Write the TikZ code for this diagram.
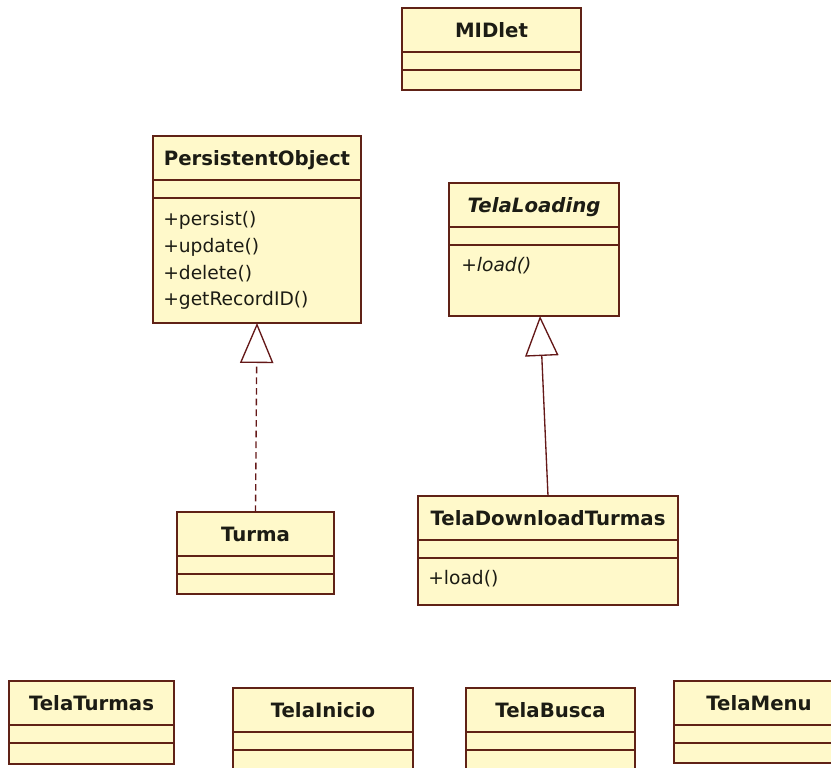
\documentclass[tikz,border=0pt]{standalone}
\usepackage{fontspec}
\setmainfont{DejaVu Sans}
\usetikzlibrary{arrows.meta, positioning, calc}
\definecolor{clsfill}{RGB}{255,249,202}
\definecolor{clsline}{RGB}{96,34,22}
\definecolor{clstext}{RGB}{28,28,20}
\definecolor{linkred}{RGB}{100,24,24}
\tikzset{
  clsbox/.style={rectangle, draw=clsline, fill=clsfill, line width=1.2pt,
    inner sep=0pt, outer sep=0pt},
  clshead/.style={clsbox, font=\bfseries\fontsize{14.8}{17}\selectfont,
    text=clstext, text height=10.8pt, text depth=0pt},
  clsops/.style={rectangle, inner sep=0pt, align=left, anchor=north west,
    font=\fontsize{14}{20}\selectfont, text=clstext},
  realize/.style={-{Triangle[open, length=30pt, width=25pt]}, line width=1pt,
    color=linkred, dash pattern=on 5pt off 3pt},
  inherit/.style={-{Triangle[open, length=30pt, width=25pt]}, line width=1pt,
    color=linkred}
}
% #1 name, #2 top left corner, #3 width, #4 height of operations, #5 title
\newcommand{\umlclass}[5]{%
  \node[clshead, anchor=north west, minimum width={#3*0.75pt}, minimum height=33pt] (#1) at (#2) {#5};
  \node[clsbox, anchor=north, minimum width={#3*0.75pt}, minimum height=13.5pt] (#1-attr) at (#1.south) {};
  \node[clsbox, anchor=north, minimum width={#3*0.75pt}, minimum height={#4*0.75pt}] (#1-ops) at (#1-attr.south) {};
}

\begin{document}
\begin{tikzpicture}[x=0.75pt, y=-0.75pt]
  \useasboundingbox (0,0) rectangle (831,767);
  \fill[white] (0,0) rectangle (831,767);
  \clip (0,0) rectangle (831,767);

  % Classes
  \umlclass{midlet}{402,8}{179}{20}{MIDlet}
  \umlclass{persistent}{153,136}{208}{125}{PersistentObject}
  \umlclass{telaloading}{449,183}{170}{71}{\itshape TelaLoading}
  \umlclass{turma}{177,512}{157}{20}{Turma}
  \umlclass{teladownload}{418,496}{260}{47}{TelaDownloadTurmas}
  \umlclass{telaturmas}{9,681}{165}{21}{TelaTurmas}
  \umlclass{telainicio}{233,688}{180}{20}{TelaInicio}
  \umlclass{telabusca}{466,688}{169}{20}{TelaBusca}
  \umlclass{telamenu}{674,681}{170}{20}{TelaMenu}

  % Operations
  \node[clsops] (persistent-txt) at ($(persistent-ops.north west)+(10,13.5)$)
    {+persist()\\+update()\\+delete()\\+getRecordID()};
  \node[clsops, font=\itshape\fontsize{14}{20}\selectfont] (telaloading-txt)
    at ($(telaloading-ops.north west)+(12,12.5)$) {+load()};
  \node[clsops] (teladownload-txt) at ($(teladownload-ops.north west)+(10,12.5)$) {+load()};

  % Relations
  \draw[realize] (turma.north) -- (persistent-ops.south);
  \draw[inherit] (teladownload.north) -- ([xshift=4.5pt]telaloading-ops.south);
\end{tikzpicture}
\end{document}
